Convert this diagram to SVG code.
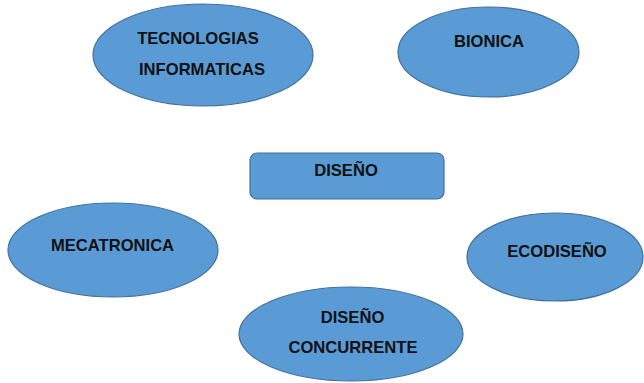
<svg xmlns="http://www.w3.org/2000/svg" width="644" height="383" viewBox="0 0 644 383">
<style>
.n{fill:#5b9bd5;stroke:#41719c;stroke-width:1.2}
.t{font-family:"Liberation Sans",Arial,sans-serif;font-weight:bold;font-size:16.6px;fill:#111;text-anchor:middle}
</style>
<rect width="644" height="383" fill="#ffffff"/>
<g id="tecnologias">
<ellipse class="n" cx="203" cy="55" rx="110" ry="51"/>
<text class="t" x="198" y="44">TECNOLOGIAS</text>
<text class="t" x="202" y="75">INFORMATICAS</text>
</g>
<g id="bionica">
<ellipse class="n" cx="488.5" cy="52" rx="90.5" ry="45"/>
<text class="t" x="489" y="47">BIONICA</text>
</g>
<g id="diseno">
<rect class="n" x="250" y="153" width="194" height="46" rx="7"/>
<text class="t" x="346" y="176">DISEÑO</text>
</g>
<g id="mecatronica">
<ellipse class="n" cx="113" cy="250" rx="105" ry="47"/>
<text class="t" x="112.5" y="251">MECATRONICA</text>
</g>
<g id="ecodiseno">
<ellipse class="n" cx="555" cy="257" rx="88" ry="44"/>
<text class="t" x="557" y="257">ECODISEÑO</text>
</g>
<g id="diseno-concurrente">
<ellipse class="n" cx="351" cy="334" rx="112" ry="47"/>
<text class="t" x="352.5" y="323">DISEÑO</text>
<text class="t" x="353" y="353">CONCURRENTE</text>
</g>
<g id="connectors"></g>
</svg>
